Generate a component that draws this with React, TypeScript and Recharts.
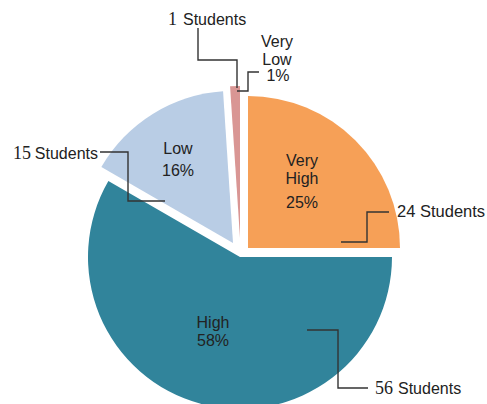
import React from 'react';
import { PieChart, Pie, Cell } from 'recharts';

const categories = ['Very High', 'High', 'Low', 'Very Low'];
const students = [24, 56, 15, 1];
const percentLabels = ['25%', '58%', '16%', '1%'];
const colors = ['#F6A057', '#31849B', '#B9CDE5', '#D99694'];

const data = categories.map((name, i) => ({ name, value: students[i] }));

const W = 487;
const H = 404;
const BASE_CX = 240;
const BASE_CY = 250;
const R = 152;
// explode offsets per slice
const explode = [
  [8, -2],
  [0, 7],
  [-7, -7],
  [0, -12],
];

const SANS = '"Liberation Sans", Arial, sans-serif';
const SERIF = '"Liberation Serif", "Times New Roman", serif';
const TXT = '#222';
const LINE = '#333';

const T = (x: number, y: number, s: string, anchor: any = 'middle', font = SANS, size = 16) => (
  <text x={x} y={y} textAnchor={anchor} dominantBaseline="central" style={{ fontFamily: font, fontSize: size }} fill={TXT}>
    {s}
  </text>
);

const poly = (pts: number[][]) => (
  <polyline points={pts.map((p) => p.join(',')).join(' ')} fill="none" stroke={LINE} strokeWidth={1.4} />
);

const renderAnnot = (target: number) => (props: any) => {
  if (props.index !== target) return null;
  const cx = props.cx;
  const cy = props.cy;
  const cat = categories[target].split(' ');
  const pct = percentLabels[target];
  const n = String(students[target]);
  if (target === 0) {
    return (
      <g>
        {T(cx + 54, cy - 88, cat[0])}
        {T(cx + 54, cy - 70, cat[1])}
        {T(cx + 54, cy - 46, pct)}
        {poly([[cx + 93, cy - 6], [cx + 119, cy - 6], [cx + 119, cy - 36], [cx + 141, cy - 36]])}
        {T(cx + 149, cy - 37, n + ' Students', 'start', SANS, 16.5)}
      </g>
    );
  }
  if (target === 1) {
    return (
      <g>
        {T(cx - 27, cy + 65, cat[0])}
        {T(cx - 27, cy + 83, pct)}
        {poly([[cx + 67, cy + 73], [cx + 98, cy + 73], [cx + 98, cy + 131], [cx + 128, cy + 131]])}
        {T(cx + 135, cy + 131, n, 'start', SERIF, 18)}
        {T(cx + 158, cy + 131, 'Students', 'start', SANS, 16)}
      </g>
    );
  }
  if (target === 2) {
    return (
      <g>
        {T(cx - 55, cy - 95, cat[0])}
        {T(cx - 55, cy - 73, pct)}
        {poly([[cx - 133, cy - 91], [cx - 105, cy - 91], [cx - 105, cy - 42], [cx - 68, cy - 42]])}
        {T(cx - 135, cy - 90, 'Students', 'end', SANS, 16)}
        {T(cx - 202, cy - 90, n, 'end', SERIF, 18)}
      </g>
    );
  }
  return (
    <g>
      {T(cx + 37, cy - 197, cat[0])}
      {T(cx + 37, cy - 179, cat[1])}
      {T(cx + 38, cy - 163, pct)}
      {poly([[cx + 19, cy - 166], [cx + 8, cy - 166], [cx + 8, cy - 147], [cx - 3, cy - 147]])}
      {poly([[cx - 42, cy - 210], [cx - 42, cy - 178], [cx - 3, cy - 178], [cx - 3, cy - 150]])}
      {T(cx - 63, cy - 219, n, 'end', SERIF, 18)}
      {T(cx - 57, cy - 219, 'Students', 'start', SANS, 16)}
    </g>
  );
};

export default function App() {
  return (
    <div style={{ position: 'absolute', left: 0, top: 0, width: W, height: H, background: '#fff' }}>
      <PieChart width={W} height={H} margin={{ top: 0, right: 0, bottom: 0, left: 0 }}>
        {categories.map((c, k) => (
          <Pie
            key={c}
            data={data}
            dataKey="value"
            nameKey="name"
            cx={BASE_CX + explode[k][0]}
            cy={BASE_CY + explode[k][1]}
            outerRadius={R}
            innerRadius={0}
            startAngle={90}
            endAngle={-270}
            stroke="none"
            isAnimationActive={false}
            labelLine={false}
            label={renderAnnot(k)}
          >
            {data.map((d, i) => (
              <Cell key={d.name} fill={i === k ? colors[i] : 'none'} />
            ))}
          </Pie>
        ))}
      </PieChart>
    </div>
  );
}
